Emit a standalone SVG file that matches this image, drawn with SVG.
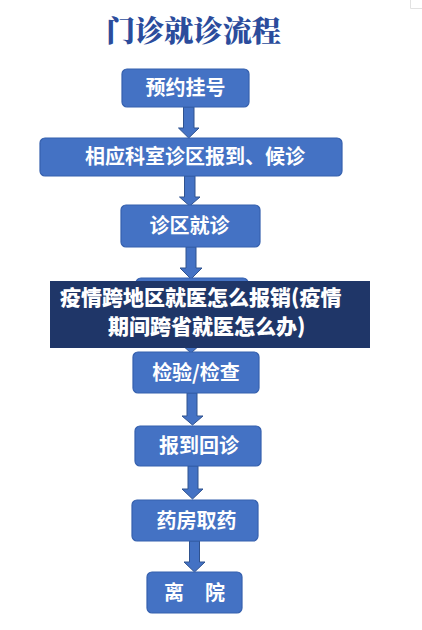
<svg xmlns="http://www.w3.org/2000/svg" width="422" height="630" viewBox="0 0 422 630">
<style>
.box{fill:#4472C4;stroke:#3560AE;stroke-width:1.2}
.bt{fill:#FFFFFF;font-family:"Noto Sans CJK SC","Noto Sans",sans-serif;font-weight:700;font-size:20px;text-anchor:middle}
.arr{fill:#4472C4;stroke:#2F528F;stroke-width:1}
.ttl{fill:#2B4C9C;font-family:"Noto Serif CJK SC","Noto Sans CJK SC",serif;font-weight:900;font-size:29px}
.ban{fill:#1F3668}
.bnt{fill:#FFFFFF;font-family:"Noto Sans CJK SC","Noto Sans",sans-serif;font-weight:900;font-size:21px}
</style>
<rect width="422" height="630" fill="#FFFFFF"/>
<path d="M410.5 0 V8.5 H422" fill="none" stroke="#E2E2E2" stroke-width="1"/>
<g id="title"><text class="ttl" x="106" y="42" textLength="175" lengthAdjust="spacingAndGlyphs">门诊就诊流程</text></g>
<g id="connectors">
<path class="arr" d="M183.5 107 H194 V128 H199 L188.7 138 L178.5 128 H183.5 Z"/>
<path class="arr" d="M184.5 176 H195 V197 H200 L189.7 206 L179.5 197 H184.5 Z"/>
<path class="arr" d="M186 247 H196 V268 H202 L191 279 L180 268 H186 Z"/>
<path class="arr" d="M186.5 340 H196 V344 H201 L191 353 L181 344 H186.5 Z"/>
<path class="arr" d="M187 393 H197 V416 H203 L192.5 425 L182 416 H187 Z"/>
<path class="arr" d="M188 466 H198 V489 H203 L192.5 499 L182 489 H188 Z"/>
<path class="arr" d="M189.5 541 H199.5 V562 H205 L194.5 572 L184 562 H189.5 Z"/>
</g>
<g id="n1"><rect class="box" x="122" y="69" width="127" height="38" rx="5"/><text class="bt" x="185.5" y="95">预约挂号</text></g>
<g id="n2"><rect class="box" x="40" y="138" width="302" height="38" rx="5"/><text class="bt" x="195" y="164">相应科室诊区报到、候诊</text></g>
<g id="n3"><rect class="box" x="121" y="205" width="139" height="42" rx="5"/><text class="bt" x="189.5" y="233">诊区就诊</text></g>
<g id="n4"><rect class="box" x="136" y="278" width="112" height="62" rx="5"/></g>
<g id="n5"><rect class="box" x="133" y="352" width="126" height="41" rx="5"/><text class="bt" x="196" y="380">检验/检查</text></g>
<g id="n6"><rect class="box" x="135" y="426" width="126" height="40" rx="5"/><text class="bt" x="199" y="453">报到回诊</text></g>
<g id="n7"><rect class="box" x="132" y="500" width="126" height="41" rx="5"/><text class="bt" x="196.5" y="528">药房取药</text></g>
<g id="n8"><rect class="box" x="147" y="572" width="95" height="41" rx="5"/><text class="bt" y="600"><tspan x="174">离</tspan><tspan x="215">院</tspan></text></g>
<g id="banner">
<rect class="ban" x="50" y="281" width="320" height="67"/>
<text class="bnt" x="60" y="305">疫情跨地区就医怎么报销(疫情</text>
<text class="bnt" x="108" y="334">期间跨省就医怎么办)</text>
</g>
</svg>
